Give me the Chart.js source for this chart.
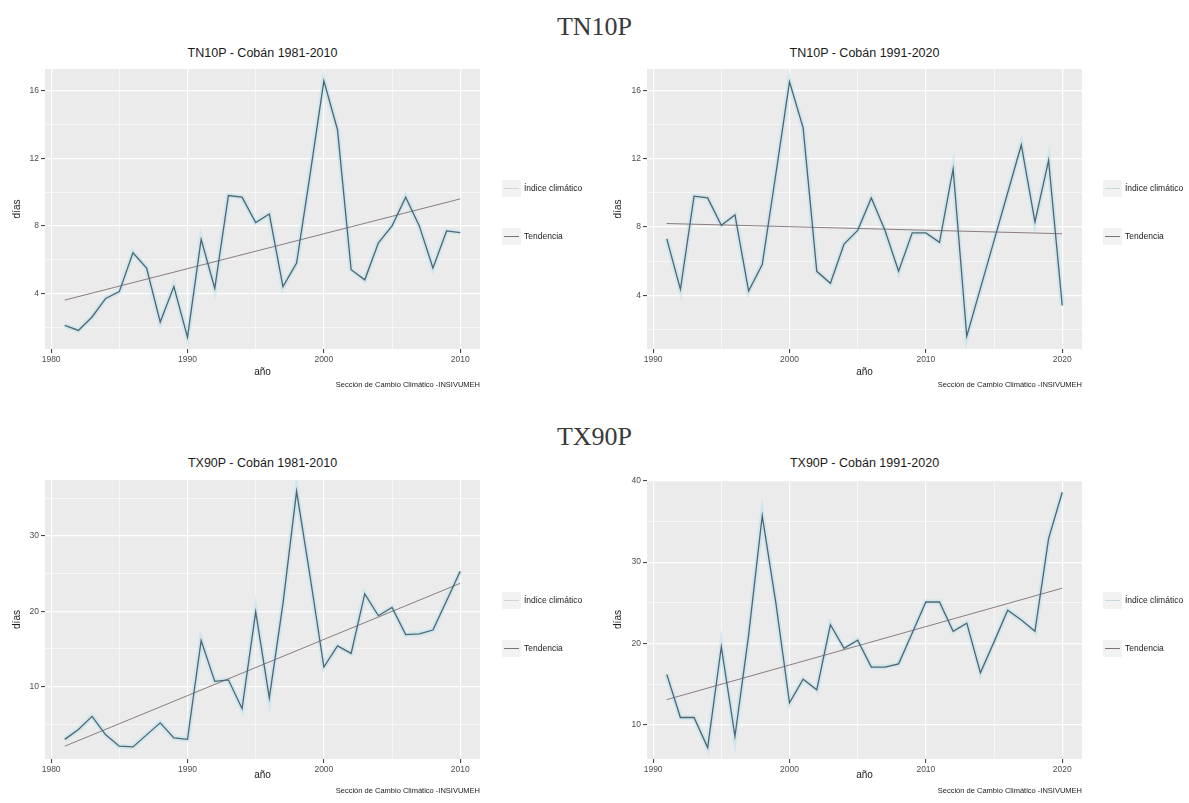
<!DOCTYPE html>
<html lang="es">
<head>
<meta charset="utf-8">
<title>TN10P / TX90P - Cobán</title>
<script src="https://cdn.jsdelivr.net/npm/chart.js@4.4.1/dist/chart.umd.min.js"></script>
<style>
  body { margin: 0; background: #fff; font-family: 'Liberation Sans', Arial, sans-serif; }
  #page { position: relative; width: 1189px; height: 803px; overflow: hidden; background: #fff; }
  .seccion { position: absolute; left: 0; width: 1189px; text-align: center; font-family: 'Liberation Serif', 'Times New Roman', serif; font-size: 26px; line-height: 30px; color: #3a3a3a; }
  .titulo { position: absolute; width: 435px; text-align: center; font-size: 12.5px; line-height: 14px; color: #1a1a1a; }
  .caption { position: absolute; width: 300px; text-align: right; font-size: 7.5px; line-height: 9px; color: #1a1a1a; white-space: nowrap; }
  .fila { position: absolute; height: 17px; white-space: nowrap; font-size: 8.5px; color: #1a1a1a; }
  .clave { position: absolute; left: 0; top: 0; width: 19px; height: 17px; background: #f2f2f2; }
  .clave i { position: absolute; left: 2px; right: 2px; top: 8px; height: 1px; }
  .fila span { position: absolute; left: 22px; top: 3px; line-height: 11px; }
  canvas { position: absolute; }
</style>
</head>
<body>
<div id="page">
  <div class="seccion" style="top:12px">TN10P</div>
  <div class="seccion" style="top:422px">TX90P</div>
</div>
<script>
// años de cada periodo
const yearsA = [1981,1982,1983,1984,1985,1986,1987,1988,1989,1990,1991,1992,1993,1994,1995,
                1996,1997,1998,1999,2000,2001,2002,2003,2004,2005,2006,2007,2008,2009,2010];
const yearsB = [1991,1992,1993,1994,1995,1996,1997,1998,1999,2000,2001,2002,2003,2004,2005,
                2006,2007,2008,2009,2010,2011,2012,2013,2014,2015,2016,2017,2018,2019,2020];

// índices (días)
const tn10pA = [2.1, 1.8, 2.6, 3.7, 4.1, 6.4, 5.5, 2.3, 4.4, 1.4, 7.2, 4.3, 9.8, 9.7, 8.2,
                8.7, 4.4, 5.8, 11.1, 16.6, 13.7, 5.4, 4.8, 7.0, 8.0, 9.7, 8.0, 5.5, 7.7, 7.6];
const tn10pB = [7.3, 4.35, 9.8, 9.7, 8.1, 8.7, 4.25, 5.8, 11.1, 16.5, 13.8, 5.4, 4.7, 7.0, 7.8,
                9.7, 7.8, 5.4, 7.65, 7.65, 7.1, 11.4, 1.6, 4.4, 7.2, 10.0, 12.8, 8.3, 11.9, 3.4];
const tx90pA = [3.0, 4.3, 6.05, 3.6, 2.1, 2.0, 3.6, 5.2, 3.2, 3.0, 16.1, 10.7, 10.9, 7.1, 19.9,
                8.5, 21.0, 35.9, 24.5, 12.6, 15.4, 14.4, 22.3, 19.4, 20.5, 16.9, 17.0, 17.5, 21.4, 25.3];
const tx90pB = [16.2, 10.9, 10.9, 7.2, 19.6, 8.6, 21.0, 35.7, 25.0, 12.7, 15.6, 14.3, 22.3, 19.4, 20.4,
                17.1, 17.1, 17.5, 21.3, 25.1, 25.1, 21.5, 22.5, 16.4, 20.2, 24.1, 22.9, 21.5, 32.9, 38.6];

// tendencia: valor al inicio y al final del periodo
const tn10pTrendA = [3.6, 9.6];
const tn10pTrendB = [8.2, 7.6];
const tx90pTrendA = [2.1, 23.7];
const tx90pTrendB = [13.1, 26.8];

// marcas de los ejes
const xTicksA = [1980, 1990, 2000, 2010];
const xMinorA = [1985, 1995, 2005];
const xTicksB = [1990, 2000, 2010, 2020];
const xMinorB = [1995, 2005, 2015];
const yTicksTN = [4, 8, 12, 16];
const yMinorTN = [2, 6, 10, 14];
const yTicksTXA = [10, 20, 30];
const yMinorTXA = [5, 15, 25, 35];
const yTicksTXB = [10, 20, 30, 40];
const yMinorTXB = [15, 25, 35];

const legendLabels = ['Índice climático', 'Tendencia'];
const caption = 'Sección de Cambio Climático -INSIVUMEH';

Chart.defaults.font.family = "'Liberation Sans', Arial, sans-serif";
Chart.defaults.color = '#4d4d4d';

const page = document.getElementById('page');

// fondo gris del panel (estilo ggplot)
const panelBg = {
  id: 'panelBg',
  beforeDraw(chart) {
    const a = chart.chartArea;
    const ctx = chart.ctx;
    ctx.save();
    ctx.fillStyle = '#ebebeb';
    ctx.fillRect(a.left, a.top, a.right - a.left, a.bottom - a.top);
    ctx.restore();
  }
};

function axis(majors, minors, min, max, title, titlePad, size) {
  const all = majors.concat(minors);
  const isMajor = c => c.tick && majors.includes(c.tick.value);
  return {
    type: 'linear',
    min: min,
    max: max,
    afterBuildTicks: s => { s.ticks = all.map(v => ({ value: v })); },
    afterFit: s => {
      if (s.isHorizontal()) s.height = size; else s.width = size;
    },
    ticks: {
      autoSkip: false,
      maxRotation: 0,
      padding: 2,
      color: '#4d4d4d',
      font: { size: 8.5 },
      callback: v => majors.includes(v) ? String(v) : ''
    },
    grid: {
      color: '#ffffff',
      lineWidth: c => isMajor(c) ? 1.2 : 0.6,
      drawTicks: true,
      tickLength: 4,
      tickColor: c => isMajor(c) ? '#333333' : 'rgba(0,0,0,0)',
      tickWidth: 1
    },
    border: { display: false },
    title: {
      display: true,
      text: title,
      color: '#1a1a1a',
      font: { size: 10 },
      padding: titlePad
    }
  };
}

function makePanel(p) {
  const canvas = document.createElement('canvas');
  canvas.width = p.w;
  canvas.height = p.h;
  canvas.style.left = p.left + 'px';
  canvas.style.top = p.top + 'px';
  canvas.style.width = p.w + 'px';
  canvas.style.height = p.h + 'px';
  page.appendChild(canvas);

  const pts = p.years.map((yr, i) => ({ x: yr, y: p.values[i] }));
  const trend = [
    { x: p.years[0], y: p.trend[0] },
    { x: p.years[p.years.length - 1], y: p.trend[1] }
  ];

  new Chart(canvas.getContext('2d'), {
    type: 'line',
    data: {
      datasets: [
        { label: legendLabels[0], data: pts, borderColor: '#4f6670', borderWidth: 1.3,
          pointRadius: 0, tension: 0, fill: false },
        { label: legendLabels[1], data: trend, borderColor: '#8a7d7e', borderWidth: 1,
          pointRadius: 0, tension: 0, fill: false },
        { label: 'halo', data: pts, borderColor: 'rgba(185,225,238,0.55)', borderWidth: 5,
          pointRadius: 0, tension: 0, fill: false }
      ]
    },
    options: {
      responsive: false,
      animation: false,
      events: [],
      layout: { padding: { left: 0, top: p.area.t, right: p.w - p.area.r, bottom: 0 } },
      plugins: { legend: { display: false }, tooltip: { enabled: false } },
      scales: {
        x: axis(p.xTicks, p.xMinor, p.xMin, p.xMax, 'año', { top: 0, bottom: 22 }, p.h - p.area.b),
        y: axis(p.yTicks, p.yMinor, p.yMin, p.yMax, 'días', { top: p.yTitlePad, bottom: 0 }, p.area.l)
      }
    },
    plugins: [panelBg]
  });

  // título del panel
  const t = document.createElement('div');
  t.className = 'titulo';
  t.textContent = p.title;
  t.style.left = (p.left + p.area.l) + 'px';
  t.style.top = p.titleTop + 'px';
  page.appendChild(t);

  // pie
  const c = document.createElement('div');
  c.className = 'caption';
  c.textContent = caption;
  c.style.left = (p.left + p.area.r - 300) + 'px';
  c.style.top = p.captionTop + 'px';
  page.appendChild(c);

  // leyenda
  const keyColors = ['#c9d6db', '#7d7273'];
  legendLabels.forEach((lab, i) => {
    const f = document.createElement('div');
    f.className = 'fila';
    f.style.left = p.legendLeft + 'px';
    f.style.top = p.legendTops[i] + 'px';
    f.innerHTML = '<div class="clave"><i style="background:' + keyColors[i] + '"></i></div><span></span>';
    f.querySelector('span').textContent = lab;
    page.appendChild(f);
  });
}

makePanel({
  title: 'TN10P - Cobán 1981-2010', years: yearsA, values: tn10pA, trend: tn10pTrendA,
  left: 0, top: 60, w: 595, h: 340, area: { l: 45, t: 9, r: 480, b: 289 },
  xTicks: xTicksA, xMinor: xMinorA, xMin: 1979.55, xMax: 2011.45,
  yTicks: yTicksTN, yMinor: yMinorTN, yMin: 0.7, yMax: 17.3, yTitlePad: 11,
  titleTop: 46, captionTop: 380, legendLeft: 502, legendTops: [180, 228]
});
makePanel({
  title: 'TN10P - Cobán 1991-2020', years: yearsB, values: tn10pB, trend: tn10pTrendB,
  left: 600, top: 60, w: 589, h: 340, area: { l: 47, t: 9, r: 482, b: 289 },
  xTicks: xTicksB, xMinor: xMinorB, xMin: 1989.55, xMax: 2021.45,
  yTicks: yTicksTN, yMinor: yMinorTN, yMin: 0.85, yMax: 17.25, yTitlePad: 12,
  titleTop: 46, captionTop: 380, legendLeft: 1103, legendTops: [180, 228]
});
makePanel({
  title: 'TX90P - Cobán 1981-2010', years: yearsA, values: tx90pA, trend: tx90pTrendA,
  left: 0, top: 470, w: 595, h: 333, area: { l: 45, t: 10, r: 480, b: 289 },
  xTicks: xTicksA, xMinor: xMinorA, xMin: 1979.55, xMax: 2011.45,
  yTicks: yTicksTXA, yMinor: yMinorTXA, yMin: 0.4, yMax: 37.4, yTitlePad: 11,
  titleTop: 456, captionTop: 786, legendLeft: 502, legendTops: [592, 640]
});
makePanel({
  title: 'TX90P - Cobán 1991-2020', years: yearsB, values: tx90pB, trend: tx90pTrendB,
  left: 600, top: 470, w: 589, h: 333, area: { l: 47, t: 10, r: 482, b: 289 },
  xTicks: xTicksB, xMinor: xMinorB, xMin: 1989.55, xMax: 2021.45,
  yTicks: yTicksTXB, yMinor: yMinorTXB, yMin: 5.8, yMax: 40.1, yTitlePad: 12,
  titleTop: 456, captionTop: 786, legendLeft: 1103, legendTops: [592, 640]
});
</script>
</body>
</html>
